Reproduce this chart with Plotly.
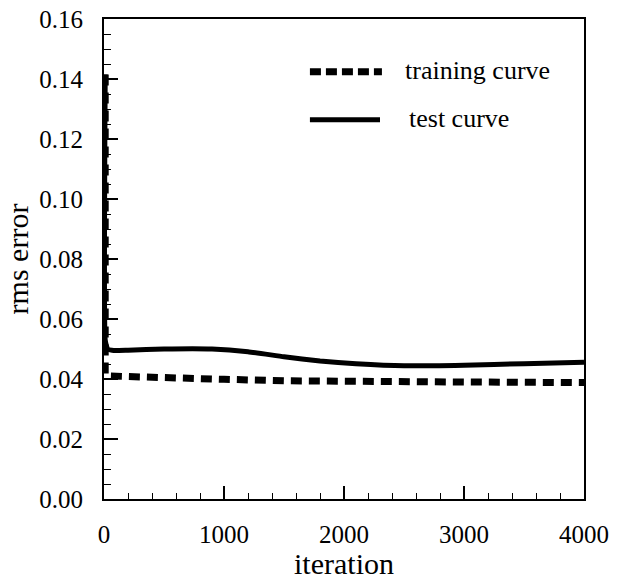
import plotly.graph_objects as go

# Data
train_iter = [10, 10, 40, 300, 700, 1000, 1500, 2000, 2500, 3000, 3500, 4000]
train_rms = [0.1415, 0.0415, 0.0410, 0.0406, 0.0402, 0.0399, 0.0394, 0.0391, 0.0390, 0.0390, 0.0389, 0.0388]

test_iter = [10, 10, 30, 80, 200, 500, 900, 1200, 1500, 1800, 2100, 2500, 3000, 3500, 4000]
test_rms = [0.1415, 0.0530, 0.0500, 0.0495, 0.0496, 0.0500, 0.0500, 0.0491, 0.0474, 0.0460, 0.0451, 0.0444, 0.0446, 0.0451, 0.0456]

x_ticks = [0, 1000, 2000, 3000, 4000]
y_ticks = [0.00, 0.02, 0.04, 0.06, 0.08, 0.10, 0.12, 0.14, 0.16]
y_tick_labels = ["0.00", "0.02", "0.04", "0.06", "0.08", "0.10", "0.12", "0.14", "0.16"]

legend_names = ["training curve", "test curve"]

FONT = "Liberation Serif, Times New Roman, serif"

fig = go.Figure()
fig.add_trace(go.Scatter(
    x=test_iter, y=test_rms, mode="lines", name=legend_names[1],
    line=dict(color="black", width=5, shape="spline", smoothing=0.4),
    showlegend=False,
))
fig.add_trace(go.Scatter(
    x=train_iter, y=train_rms, mode="lines", name=legend_names[0],
    line=dict(color="black", width=7, dash="11px,7px"),
    showlegend=False,
))

# Manual legend (drawn inside plot, as in the reference)
fig.add_shape(type="line", xref="paper", yref="paper", x0=0.429, x1=0.579, y0=0.890, y1=0.890,
              line=dict(color="black", width=7, dash="11px,5px"))
fig.add_shape(type="line", xref="paper", yref="paper", x0=0.429, x1=0.575, y0=0.790, y1=0.790,
              line=dict(color="black", width=5))
fig.add_annotation(xref="paper", yref="paper", x=0.623, y=0.893, text=legend_names[0],
                   showarrow=False, xanchor="left", yanchor="middle",
                   font=dict(family=FONT, size=26, color="black"))
fig.add_annotation(xref="paper", yref="paper", x=0.631, y=0.793, text=legend_names[1],
                   showarrow=False, xanchor="left", yanchor="middle",
                   font=dict(family=FONT, size=26, color="black"))

axis_common = dict(
    showline=True, linecolor="black", linewidth=2, mirror=True,
    ticks="inside", tickcolor="black", tickwidth=1.5,
    showgrid=False, zeroline=False, automargin=False,
    tickfont=dict(family=FONT, size=25, color="black"),
)

fig.update_xaxes(
    range=[0, 4000], tickvals=x_ticks, ticklen=13,
    minor=dict(dtick=200, ticks="inside", ticklen=6, tickcolor="black", tickwidth=1.2, showgrid=False),
    title=dict(text="iteration", font=dict(family=FONT, size=30, color="black"), standoff=2),
    ticklabelstandoff=12,
    **axis_common,
)
fig.update_yaxes(
    range=[0, 0.16], tickvals=y_ticks, ticktext=y_tick_labels, ticklen=14,
    minor=dict(dtick=0.005, ticks="inside", ticklen=7, tickcolor="black", tickwidth=1.2, showgrid=False),
    title=dict(text="rms error", font=dict(family=FONT, size=30, color="black"), standoff=2),
    ticklabelstandoff=14,
    **axis_common,
)

fig.update_layout(
    width=621, height=580,
    margin=dict(l=104, r=37, t=19, b=81),
    plot_bgcolor="white", paper_bgcolor="white",
    font=dict(family=FONT, color="black"),
)

fig.write_html("out.html")
